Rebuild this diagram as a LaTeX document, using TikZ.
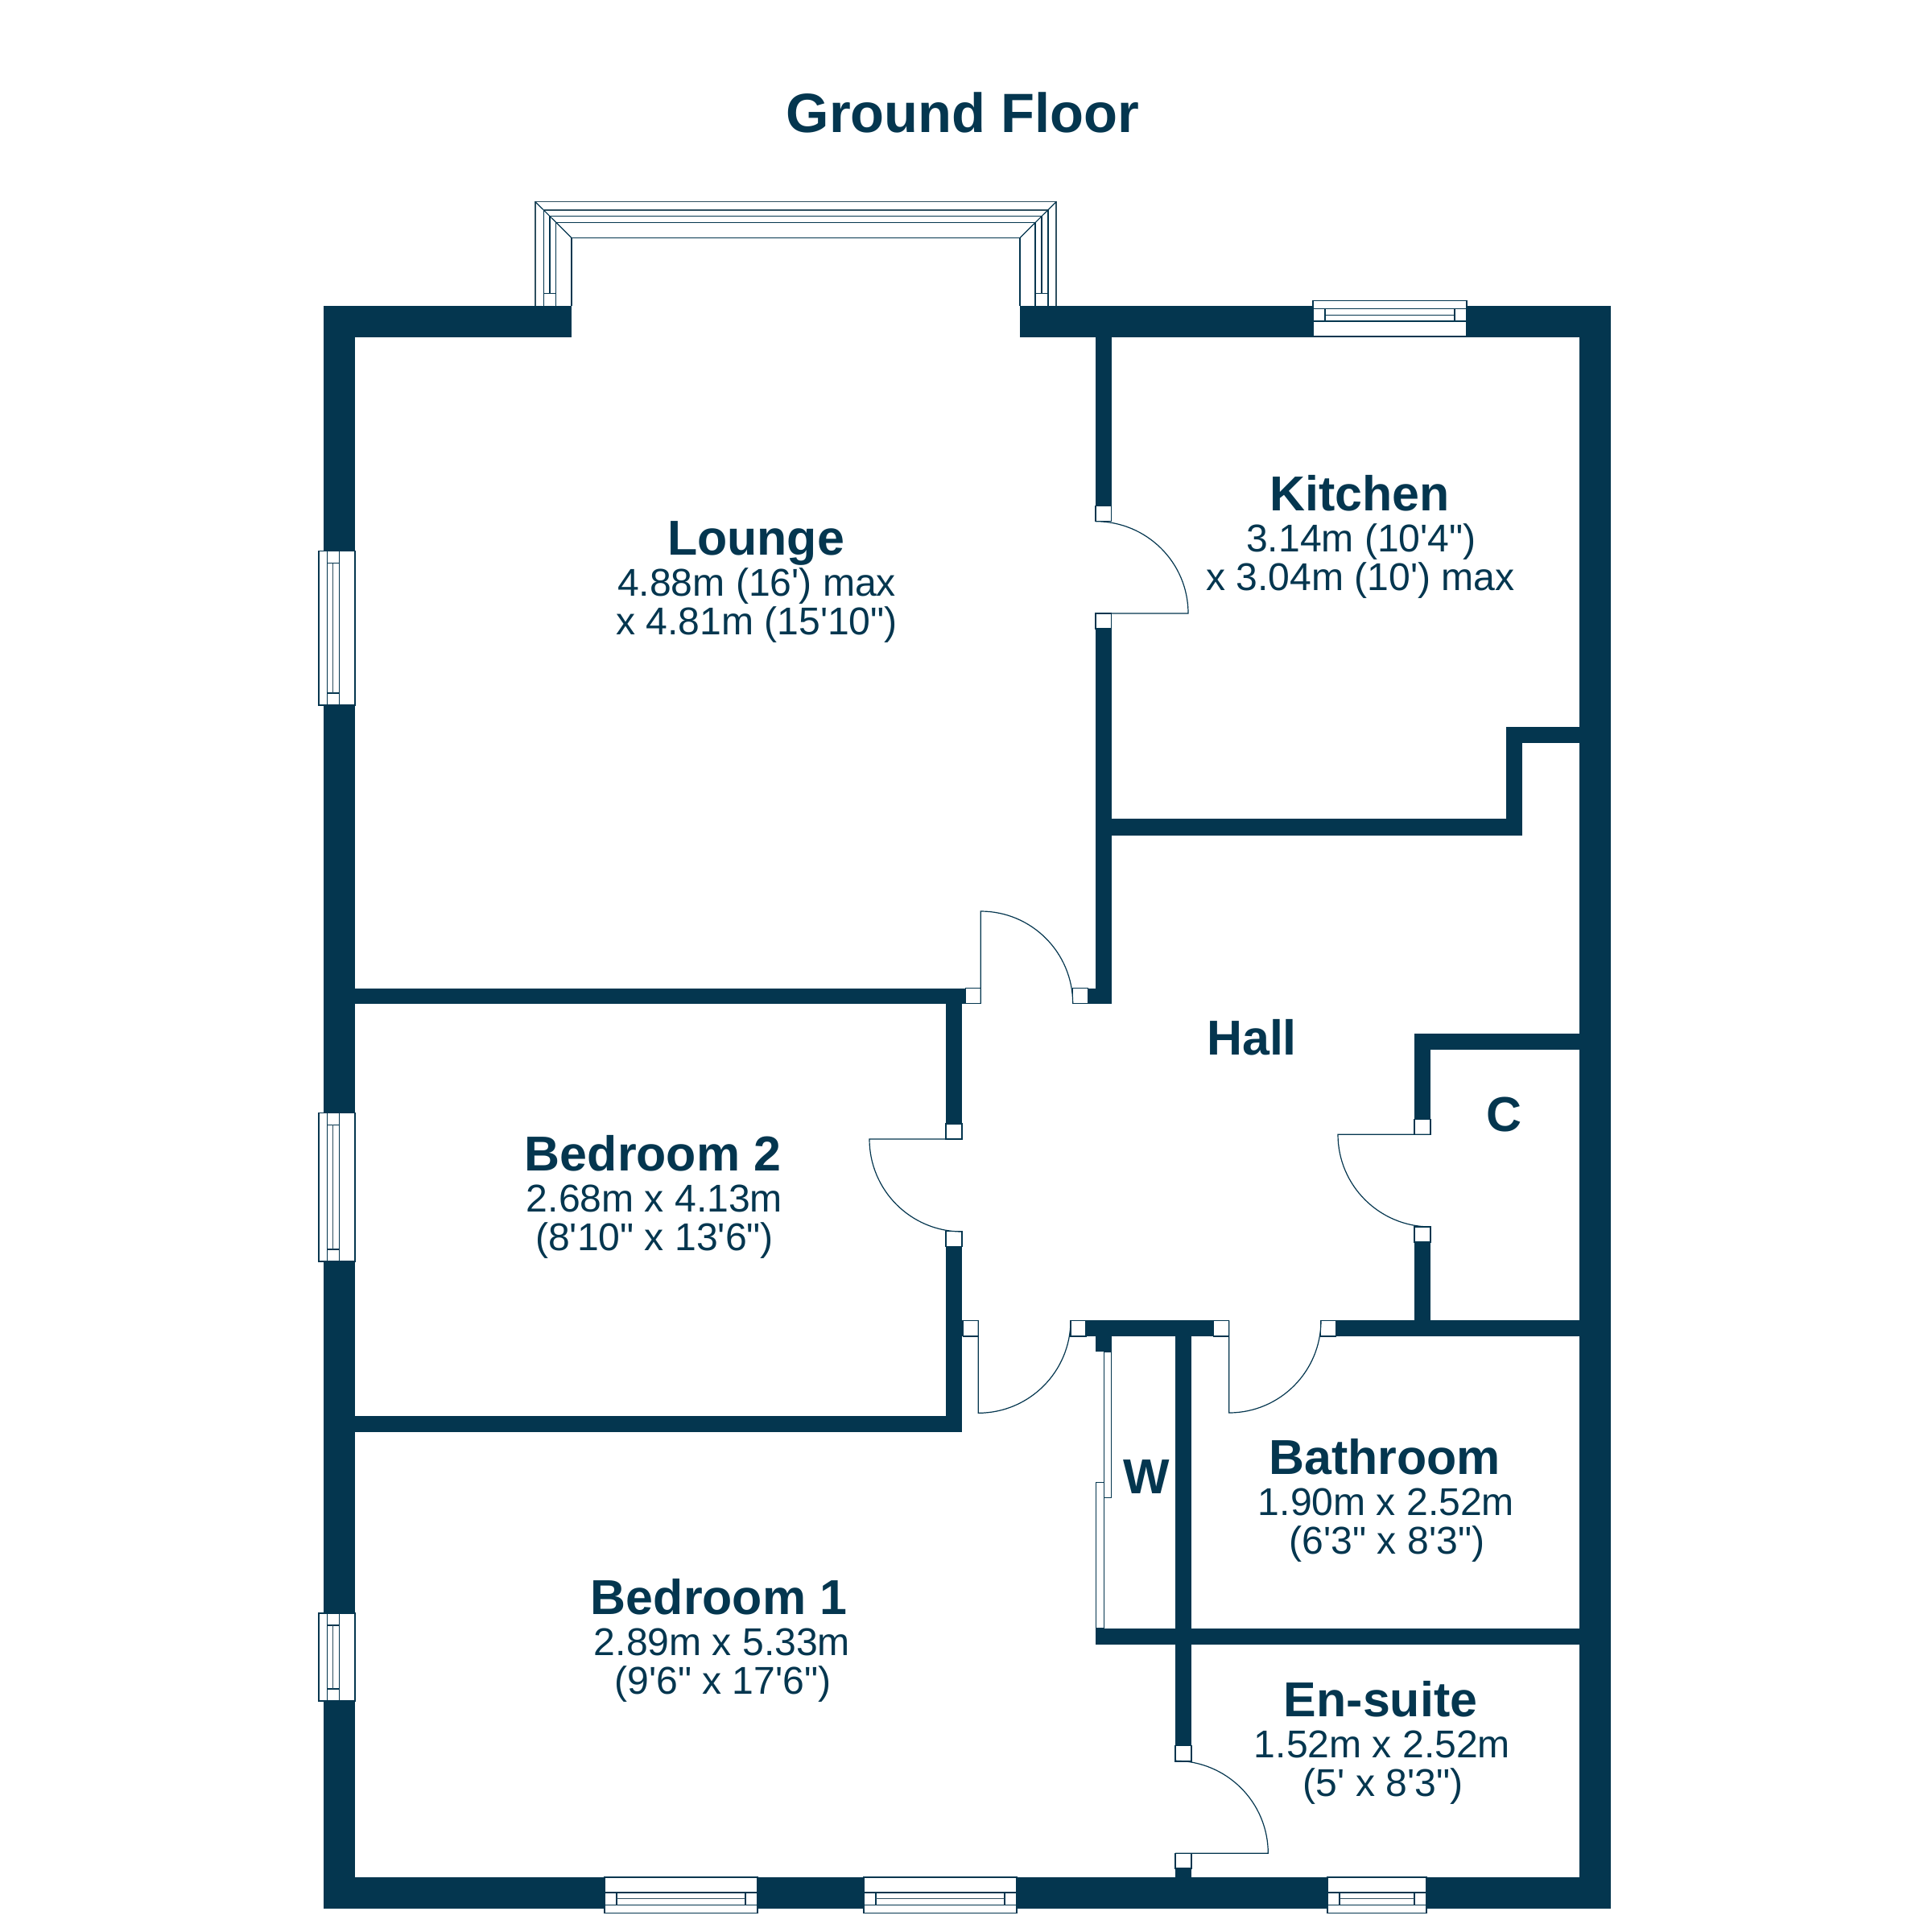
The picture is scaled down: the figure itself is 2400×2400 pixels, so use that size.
\documentclass[tikz,border=0pt]{standalone}
\usepackage{fontspec}
\usetikzlibrary{calc}
\newfontfamily\planfont{Liberation Sans}
\definecolor{planblue}{RGB}{4,54,79}
\newcommand{\wall}[4]{\fill[planblue] (#1,#2) rectangle (#3,#4);}
\newcommand{\jamb}[4]{\draw[thinline,fill=white] (#1,#2) rectangle (#3,#4);}
% centre x,y ; leaf end x,y ; arc end x,y
\newcommand{\swing}[6]{\draw[thinline] (#1,#2) -- (#3,#4) .. controls ($(#3,#4)+0.5523*(#5,#6)-0.5523*(#1,#2)$) and ($(#5,#6)+0.5523*(#3,#4)-0.5523*(#1,#2)$) .. (#5,#6);}
\newcommand{\winleft}[2]{%
  \draw[thinline,fill=white] (396,#1) rectangle (406.3,#2);
  \draw[thinline,fill=white] (406.3,#1) rectangle (421.7,#2);
  \draw[thinline,fill=white] (421.7,#1) rectangle (441,#2);
  \draw[thinline] (406.3,#1+15) -- (421.7,#1+15) (406.3,#2-15) -- (421.7,#2-15);
  \draw[grayline] (413.7,#1+15) -- (413.7,#2-15);}
\newcommand{\winbottom}[2]{%
  \draw[thinline,fill=white] (#1,2332) rectangle (#2,2351);
  \draw[thinline,fill=white] (#1,2351) rectangle (#2,2366.3);
  \draw[thinline,fill=white] (#1,2366.3) rectangle (#2,2376.7);
  \draw[thinline] (#1+15,2351) -- (#1+15,2366.3) (#2-15,2351) -- (#2-15,2366.3);
  \draw[grayline] (#1+15,2358.7) -- (#2-15,2358.7);}
\newcommand{\wintop}[2]{%
  \draw[thinline,fill=white] (#1,373.3) rectangle (#2,383.3);
  \draw[thinline,fill=white] (#1,383.3) rectangle (#2,399);
  \draw[thinline,fill=white] (#1,399) rectangle (#2,418);
  \draw[thinline] (#1+15,383.3) -- (#1+15,399) (#2-15,383.3) -- (#2-15,399);
  \draw[thinline] (#1+15,391.3) -- (#2-15,391.3);}
\tikzset{
  thinline/.style={draw=planblue,line width=1.2pt},
  grayline/.style={draw=planblue!65!gray,line width=1.5pt},
  titletext/.style={anchor=base,inner sep=0pt,text=planblue,font=\planfont\bfseries\fontsize{68.7}{70}\selectfont},
  roomname/.style={anchor=base,inner sep=0pt,text=planblue,font=\planfont\bfseries\fontsize{60.9}{62}\selectfont},
  roomdim/.style={anchor=base,inner sep=0pt,text=planblue,font=\planfont\fontsize{48.1}{50}\selectfont},
}
\begin{document}
\begin{tikzpicture}[x=1pt,y=-1pt]
\useasboundingbox (0,0) rectangle (2400,2400);
\fill[white] (0,0) rectangle (2400,2400);
% bay window
\draw[grayline] (665,380) -- (665,250.7) -- (1312,250.7) -- (1312,380);
\draw[thinline] (675.7,380) -- (675.7,261) (1302,380) -- (1302,261);
\draw[grayline] (675.7,261) -- (1302,261);
\draw[thinline] (683,364.7) -- (683,268.5) -- (1294,268.5) -- (1294,364.7);
\draw[thinline] (690.7,380) -- (690.7,276.3) -- (1286,276.3) -- (1286,380);
\draw[thinline] (710,380) -- (710,295.5) -- (1267,295.5) -- (1267,380);
\draw[thinline] (665,250.7) -- (710,295.5) (1312,250.7) -- (1267,295.5);
\draw[thinline] (675.7,364.7) -- (690.7,364.7) (1286,364.7) -- (1302,364.7);
% outer walls
\wall{402}{380}{710}{419}
\wall{1267}{380}{1631}{419}
\wall{1822}{380}{2001}{419}
\wall{402}{380}{441}{684.7}
\wall{402}{876}{441}{1382.3}
\wall{402}{1567}{441}{2004}
\wall{402}{2113}{441}{2371}
\wall{1962}{380}{2001}{2371}
\wall{402}{2332}{751}{2371}
\wall{941}{2332}{1073}{2371}
\wall{1263}{2332}{1649}{2371}
\wall{1772}{2332}{2001}{2371}
% inner walls
\wall{1361}{419}{1380.7}{628.7}
\wall{1361}{781}{1380.7}{1246.7}
\wall{1351.7}{1227.7}{1380.7}{1246.7}
\wall{1380}{1017.3}{1891}{1037.7}
\wall{1871}{903}{1891}{1037.7}
\wall{1871}{903}{1962}{922.7}
\wall{441}{1227.7}{1199.3}{1246.7}
\wall{1175}{1246}{1195}{1396}
\wall{1175}{1548.3}{1195}{1779.3}
\wall{441}{1759.3}{1195}{1779.3}
\wall{1195}{1640.3}{1197}{1660}
\wall{1757}{1283.7}{1962}{1303.7}
\wall{1757}{1283.7}{1777}{1390.7}
\wall{1757}{1543}{1777}{1660}
\wall{1349}{1640.3}{1507.7}{1660}
\wall{1659.3}{1640.3}{1962}{1660}
\wall{1360.7}{1660}{1380.7}{1679.3}
\wall{1460}{1660}{1480}{2168.7}
\wall{1360.7}{2022.7}{1962}{2042.7}
\wall{1460}{2321}{1480}{2332}
% windows
\wintop{1631}{1822}
\winleft{684.7}{876}
\winleft{1382.3}{1567}
\winleft{2004}{2113}
\winbottom{751}{941}
\winbottom{1073}{1263}
\winbottom{1649}{1772}
% doors
\jamb{1199.3}{1227.7}{1218.3}{1246.7}
\jamb{1332.7}{1227.7}{1351.7}{1246.7}
\swing{1218.3}{1246.7}{1218.3}{1132}{1332.7}{1246.7}
\jamb{1361}{628.7}{1380.7}{647.7}
\jamb{1361}{762}{1380.7}{781}
\swing{1361}{762}{1476}{762}{1361}{647.7}
\jamb{1175}{1396}{1195}{1415}
\jamb{1175}{1529.3}{1195}{1548.3}
\swing{1195}{1415}{1080}{1415}{1195}{1530}
\jamb{1757}{1390.7}{1777}{1409.3}
\jamb{1757}{1524}{1777}{1543}
\swing{1777}{1409.3}{1662}{1409.3}{1777}{1524}
\jamb{1196.7}{1640.3}{1215.3}{1660}
\jamb{1330}{1640.3}{1349}{1660}
\swing{1215.3}{1640.3}{1215.3}{1755.3}{1330}{1640.3}
\jamb{1507.7}{1640.3}{1526.7}{1660}
\jamb{1640.7}{1640.3}{1659.3}{1660}
\swing{1526.7}{1640.3}{1526.7}{1755}{1641}{1640.3}
\jamb{1460}{2168.7}{1480}{2188}
\jamb{1460}{2302.3}{1480}{2321}
\swing{1460}{2302.3}{1575.3}{2302.3}{1460}{2187.3}
% sliding wardrobe doors
\draw[thinline] (1371.3,1679.3) rectangle (1380.7,1860.7);
\draw[thinline] (1361.3,1841.3) rectangle (1371.3,2022.7);
% labels
\node[titletext] (title) at (1196,165) {Ground Floor};
\node[roomname] (lounge) at (939,689) {Lounge};
\node[roomdim] (lounge1) at (940,740) {4.88m (16') max};
\node[roomdim] (lounge2) at (940,788) {x 4.81m (15'10")};
\node[roomname] (kitchen) at (1689,634) {Kitchen};
\node[roomdim] (kitchen1) at (1691,685) {3.14m (10'4")};
\node[roomdim] (kitchen2) at (1690,733) {x 3.04m (10') max};
\node[roomname] (hall) at (1555,1310) {Hall};
\node[roomname] (bed2) at (811,1454) {Bedroom 2};
\node[roomdim] (bed2a) at (813,1505) {2.68m x 4.13m};
\node[roomdim] (bed2b) at (813,1553) {(8'10" x 13'6")};
\node[roomname] (cupboard) at (1868,1405) {C};
\node[roomname] (wardrobe) at (1424,1855) {W};
\node[roomname] (bath) at (1720,1831) {Bathroom};
\node[roomdim] (bath1) at (1722,1882) {1.90m x 2.52m};
\node[roomdim] (bath2) at (1723,1930) {(6'3" x 8'3")};
\node[roomname] (bed1) at (893,2005) {Bedroom 1};
\node[roomdim] (bed1a) at (897,2056) {2.89m x 5.33m};
\node[roomdim] (bed1b) at (898,2104) {(9'6" x 17'6")};
\node[roomname] (ensuite) at (1715,2132) {En-suite};
\node[roomdim] (ensuite1) at (1717,2183) {1.52m x 2.52m};
\node[roomdim] (ensuite2) at (1718,2231) {(5' x 8'3")};
\end{tikzpicture}
\end{document}
